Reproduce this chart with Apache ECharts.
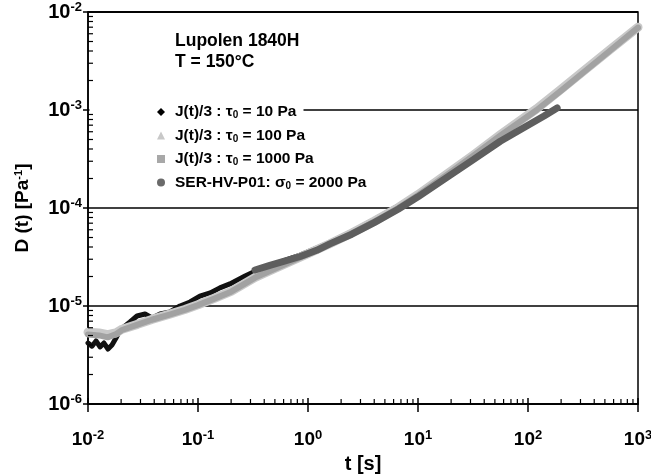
<!DOCTYPE html>
<html><head><meta charset="utf-8">
<script src="https://cdn.jsdelivr.net/npm/echarts@6/dist/echarts.min.js"></script>
<style>html,body{margin:0;padding:0;background:#fff}#c{width:651px;height:474px}</style>
</head><body><div id="c"></div>
<script>
// ---- data ----
const seriesNames = ['J(t)/3 : τ0 = 10 Pa', 'J(t)/3 : τ0 = 100 Pa', 'J(t)/3 : τ0 = 1000 Pa', 'SER-HV-P01: σ0 = 2000 Pa'];
const legendRich = ['{n|J(t)/3 : τ}{s|0}{n| = 10 Pa}', '{n|J(t)/3 : τ}{s|0}{n| = 100 Pa}', '{n|J(t)/3 : τ}{s|0}{n| = 1000 Pa}', '{n|SER-HV-P01: σ}{s|0}{n| = 2000 Pa}'];

const tGray = [0.0100, 0.0126, 0.0151, 0.0178, 0.0204, 0.0282, 0.0380, 0.0562, 0.0759, 0.100, 0.141, 0.200, 0.331, 0.501, 1.00, 1.58, 2.51, 3.98, 6.61, 10.0, 19.5, 31.6, 56.2, 120, 200, 316, 562, 1000];
const d100 = [5.4e-6, 5.3e-6, 5.1e-6, 5.3e-6, 5.8e-6, 6.5e-6, 7.3e-6, 8.3e-6, 9.2e-6, 1.03e-5, 1.2e-5, 1.41e-5, 1.96e-5, 2.42e-5, 3.42e-5, 4.32e-5, 5.56e-5, 7.33e-5, 1.01e-4, 1.37e-4, 2.33e-4, 3.45e-4, 5.6e-4, 1.03e-3, 1.63e-3, 2.47e-3, 4.17e-3, 7.0e-3];
const d1000 = [5.13e-6, 5.01e-6, 4.79e-6, 5.13e-6, 5.69e-6, 6.46e-6, 7.24e-6, 8.22e-6, 9.12e-6, 1.02e-5, 1.19e-5, 1.40e-5, 1.95e-5, 2.40e-5, 3.39e-5, 4.27e-5, 5.50e-5, 7.24e-5, 1.00e-4, 1.35e-4, 2.29e-4, 3.39e-4, 5.5e-4, 1.00e-3, 1.58e-3, 2.40e-3, 4.07e-3, 6.92e-3];

const t10 = [0.0100, 0.01087, 0.01183, 0.01286, 0.01397, 0.01520, 0.01652, 0.01797, 0.01953, 0.0241, 0.0279, 0.0330, 0.0382, 0.0452, 0.0556, 0.0686, 0.0846, 0.104, 0.129, 0.158, 0.195, 0.268, 0.366, 0.556, 0.846, 1.58, 2.51, 3.98, 6.61, 10, 19.5, 31.6, 56.2];
const d10 = [4.19e-6, 3.89e-6, 4.40e-6, 3.82e-6, 4.19e-6, 3.64e-6, 4.0e-6, 4.71e-6, 5.69e-6, 6.87e-6, 7.91e-6, 8.28e-6, 7.55e-6, 8.28e-6, 8.69e-6, 1.0e-5, 1.10e-5, 1.26e-5, 1.36e-5, 1.53e-5, 1.68e-5, 2.02e-5, 2.39e-5, 2.81e-5, 3.31e-5, 4.45e-5, 5.75e-5, 7.6e-5, 1.05e-4, 1.41e-4, 2.4e-4, 3.55e-4, 5.7e-4];

const tSer = [0.33, 0.45, 0.6, 0.85, 1.2, 1.58, 2.5, 4.0, 6.6, 10, 19.5, 31.6, 56, 100, 140, 184];
const dSer = [2.33e-5, 2.6e-5, 2.85e-5, 3.2e-5, 3.7e-5, 4.3e-5, 5.4e-5, 7.1e-5, 9.7e-5, 1.3e-4, 2.15e-4, 3.1e-4, 4.8e-4, 7.0e-4, 8.7e-4, 1.05e-3];

const xMin = 1e-2, xMax = 1e3, yMin = 1e-6, yMax = 1e-2;
const titleLines = ['Lupolen 1840H', 'T = 150°C'];

// ---- helpers ----
const FONT = '"Liberation Sans", Arial, sans-serif';
const zip = (a, b) => a.map((v, i) => [v, b[i]]);
function minors(lo, hi) {
  const out = [];
  for (let d = lo; d < hi * 0.999; d *= 10) for (let k = 2; k <= 9; k++) out.push(+(d * k).toPrecision(3));
  return out;
}
function majors(lo, hi) {
  const out = [];
  for (let d = lo; d <= hi * 1.0001; d *= 10) out.push(+d.toPrecision(3));
  return out;
}
const powLabel = v => '{b|10}{sup|' + Math.round(Math.log10(v)) + '}';

// tick marks drawn through the axis scales. Data points sit inside the plot
// (so nothing gets filtered); the mark itself is placed at the axis value.
function yTickSeries(name, values, len) {
  return {
    type: 'custom', name: name, clip: false, z: 10,
    data: values.map(v => [1, v]),
    renderItem: (p, api) => {
      const pt = api.coord([xMin, api.value(1)]);
      return {type: 'rect', shape: {x: pt[0], y: pt[1] - 0.6, width: len, height: 1.2}, style: {fill: '#000'}};
    }
  };
}
function xTickSeries(name, values, len, w) {
  return {
    type: 'custom', name: name, clip: false, z: 10,
    data: values.map(v => [v, 1e-4]),
    renderItem: (p, api) => {
      const pt = api.coord([api.value(0), yMin]);
      return {type: 'rect', shape: {x: pt[0] - w / 2, y: pt[1] - len, width: w, height: len}, style: {fill: '#000'}};
    }
  };
}

const chart = echarts.init(document.getElementById('c'), null, {renderer: 'canvas'});
const lineBase = {type: 'line', showSymbol: false, symbol: 'none', smooth: false, clip: true};

chart.setOption({
  animation: false,
  backgroundColor: '#fff',
  textStyle: {fontFamily: FONT},
  title: {
    text: titleLines.join('\n'), left: 170, top: 26,
    textStyle: {fontFamily: FONT, fontSize: 17.5, fontWeight: 'bold', color: '#000', lineHeight: 21}
  },
  grid: {left: 88, right: 13, top: 12, bottom: 70, outerBoundsMode: 'none', show: true, borderColor: '#000', borderWidth: 1.5},
  xAxis: {
    type: 'log', logBase: 10, min: xMin, max: xMax,
    name: 't [s]', nameLocation: 'middle', nameGap: 49,
    nameTextStyle: {fontFamily: FONT, fontSize: 20, fontWeight: 'bold', color: '#000'},
    axisLine: {lineStyle: {color: '#000', width: 1.5}},
    axisTick: {length: 8, lineStyle: {color: '#000', width: 1.5}},
    splitLine: {show: false},
    axisLabel: {
      margin: 25, formatter: powLabel,
      rich: {
        b: {fontFamily: FONT, fontSize: 19, fontWeight: 'bold', color: '#000', lineHeight: 22, verticalAlign: 'middle'},
        sup: {fontFamily: FONT, fontSize: 13, fontWeight: 'bold', color: '#000', lineHeight: 12, verticalAlign: 'top'}
      }
    }
  },
  yAxis: {
    type: 'log', logBase: 10, min: yMin, max: yMax,
    name: 'D (t) [Pa{sup|-1}]', nameLocation: 'middle', nameGap: 56, nameRotate: 90,
    nameTextStyle: {
      fontFamily: FONT, fontSize: 19, fontWeight: 'bold', color: '#000',
      rich: {sup: {fontFamily: FONT, fontSize: 11, fontWeight: 'bold', color: '#000', verticalAlign: 'top', lineHeight: 12}}
    },
    axisLine: {lineStyle: {color: '#000', width: 1.5}},
    axisTick: {length: 5, lineStyle: {color: '#000', width: 1.5}},
    splitLine: {show: true, lineStyle: {color: '#000', width: 1.5}},
    axisLabel: {
      margin: 6, formatter: powLabel,
      rich: {
        b: {fontFamily: FONT, fontSize: 20, fontWeight: 'bold', color: '#000', lineHeight: 22, verticalAlign: 'middle'},
        sup: {fontFamily: FONT, fontSize: 13, fontWeight: 'bold', color: '#000', lineHeight: 12, verticalAlign: 'top'}
      }
    }
  },
  legend: {
    orient: 'vertical', left: 157, top: 104, padding: 0, itemGap: 7,
    itemWidth: 8, itemHeight: 8, selectedMode: false, z: 20,
    data: [
      {name: seriesNames[0], icon: 'diamond', itemStyle: {color: '#000'}},
      {name: seriesNames[1], icon: 'triangle', itemStyle: {color: '#c8c8c8'}},
      {name: seriesNames[2], icon: 'rect', itemStyle: {color: '#a8a8a8'}},
      {name: seriesNames[3], icon: 'circle', itemStyle: {color: '#6a6a6a'}}
    ],
    formatter: name => legendRich[seriesNames.indexOf(name)],
    textStyle: {
      padding: [0, 0, 0, 5],
      rich: {
        n: {fontFamily: FONT, fontSize: 15.5, fontWeight: 'bold', color: '#000', lineHeight: 17, verticalAlign: 'middle'},
        s: {fontFamily: FONT, fontSize: 10, fontWeight: 'bold', color: '#000', lineHeight: 10, verticalAlign: 'bottom'}
      }
    }
  },
  graphic: [
    {type: 'rect', left: 89.5, top: 106, shape: {width: 214, height: 8}, style: {fill: '#fff'}, z: 1}
  ],
  series: [
    Object.assign({}, lineBase, {name: seriesNames[0], data: zip(t10, d10), z: 2,
      lineStyle: {color: '#111', width: 5, cap: 'round', join: 'round'}, itemStyle: {color: '#000'}}),
    Object.assign({}, lineBase, {name: seriesNames[1], data: zip(tGray, d100), z: 3,
      lineStyle: {color: '#c8c8c8', width: 9, cap: 'round', join: 'round'}, itemStyle: {color: '#c8c8c8'}}),
    Object.assign({}, lineBase, {name: seriesNames[2], data: zip(tGray, d1000), z: 4,
      lineStyle: {color: '#a2a2a2', width: 6, cap: 'round', join: 'round'}, itemStyle: {color: '#a8a8a8'}}),
    Object.assign({}, lineBase, {name: seriesNames[3], data: zip(tSer, dSer), z: 5,
      lineStyle: {color: '#5e5e5e', width: 7, cap: 'round', join: 'round'}, itemStyle: {color: '#6a6a6a'}}),
    yTickSeries('yMinor', minors(yMin, yMax), 5),
    xTickSeries('xMinor', minors(xMin, xMax), 5, 1.2),
    xTickSeries('xMajor', majors(xMin, xMax), 6, 1.5)
  ]
});
</script></body></html>
